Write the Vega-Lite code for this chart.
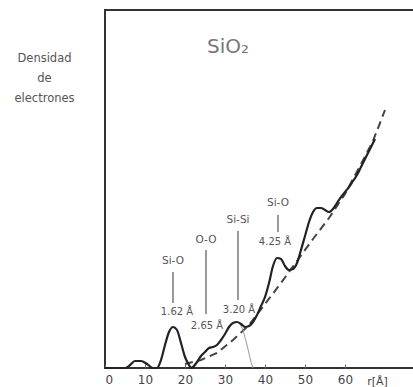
{
  "$schema": "https://vega.github.io/schema/vega-lite/v6.json",
  "autosize": "none",
  "width": 310,
  "height": 358,
  "padding": {"left": 105, "top": 10, "right": 0, "bottom": 19},
  "background": "white",
  "config": {
    "view": {"stroke": "#333333", "strokeWidth": 2},
    "font": "DejaVu Sans"
  },
  "datasets": {
    "curves": [
      {"r": 0, "py": 368, "s": "solid"}, {"r": 5, "py": 368, "s": "solid"}, {"r": 6, "py": 366, "s": "solid"},
      {"r": 7.5, "py": 361, "s": "solid"}, {"r": 9, "py": 361, "s": "solid"}, {"r": 10.5, "py": 364, "s": "solid"},
      {"r": 12, "py": 368, "s": "solid"}, {"r": 13, "py": 368, "s": "solid"}, {"r": 14, "py": 360, "s": "solid"},
      {"r": 15, "py": 345, "s": "solid"}, {"r": 16, "py": 332, "s": "solid"}, {"r": 17, "py": 327, "s": "solid"},
      {"r": 18, "py": 330, "s": "solid"}, {"r": 19, "py": 343, "s": "solid"}, {"r": 20, "py": 357, "s": "solid"},
      {"r": 21, "py": 365, "s": "solid"}, {"r": 21.5, "py": 368, "s": "solid"}, {"r": 22, "py": 367, "s": "solid"},
      {"r": 23, "py": 362, "s": "solid"}, {"r": 24, "py": 356, "s": "solid"}, {"r": 25, "py": 352, "s": "solid"},
      {"r": 26, "py": 348, "s": "solid"}, {"r": 27, "py": 347, "s": "solid"}, {"r": 28, "py": 345, "s": "solid"},
      {"r": 29, "py": 340, "s": "solid"}, {"r": 30, "py": 334, "s": "solid"}, {"r": 31, "py": 327, "s": "solid"},
      {"r": 32, "py": 323, "s": "solid"}, {"r": 33, "py": 322, "s": "solid"}, {"r": 34, "py": 324, "s": "solid"},
      {"r": 35, "py": 327, "s": "solid"}, {"r": 36, "py": 326, "s": "solid"}, {"r": 37, "py": 322, "s": "solid"},
      {"r": 38, "py": 315, "s": "solid"}, {"r": 39, "py": 306, "s": "solid"}, {"r": 40, "py": 297, "s": "solid"},
      {"r": 41, "py": 283, "s": "solid"}, {"r": 42, "py": 266, "s": "solid"}, {"r": 43, "py": 258, "s": "solid"},
      {"r": 44, "py": 259, "s": "solid"}, {"r": 45, "py": 266, "s": "solid"}, {"r": 46, "py": 270, "s": "solid"},
      {"r": 47, "py": 269, "s": "solid"}, {"r": 48, "py": 263, "s": "solid"}, {"r": 49, "py": 250, "s": "solid"},
      {"r": 50, "py": 236, "s": "solid"}, {"r": 51, "py": 222, "s": "solid"}, {"r": 52, "py": 212, "s": "solid"},
      {"r": 53, "py": 208, "s": "solid"}, {"r": 54, "py": 208, "s": "solid"}, {"r": 55, "py": 210, "s": "solid"},
      {"r": 56, "py": 212, "s": "solid"}, {"r": 57, "py": 209, "s": "solid"}, {"r": 58, "py": 203, "s": "solid"},
      {"r": 59, "py": 197, "s": "solid"}, {"r": 60, "py": 192, "s": "solid"}, {"r": 61, "py": 187, "s": "solid"},
      {"r": 62, "py": 181, "s": "solid"}, {"r": 63, "py": 175, "s": "solid"}, {"r": 64, "py": 167, "s": "solid"},
      {"r": 65, "py": 159, "s": "solid"}, {"r": 66, "py": 151, "s": "solid"}, {"r": 67, "py": 143, "s": "solid"},
      {"r": 67.5, "py": 139, "s": "solid"},
      {"r": 20, "py": 364, "s": "dashed"}, {"r": 24, "py": 360, "s": "dashed"}, {"r": 28, "py": 353, "s": "dashed"},
      {"r": 32, "py": 340, "s": "dashed"}, {"r": 36, "py": 325, "s": "dashed"}, {"r": 40, "py": 304, "s": "dashed"},
      {"r": 44, "py": 283, "s": "dashed"}, {"r": 48, "py": 261, "s": "dashed"}, {"r": 52, "py": 239, "s": "dashed"},
      {"r": 56, "py": 218, "s": "dashed"}, {"r": 60, "py": 194, "s": "dashed"}, {"r": 64, "py": 164, "s": "dashed"},
      {"r": 67, "py": 141, "s": "dashed"}, {"r": 70, "py": 110, "s": "dashed"},
      {"r": 33.5, "py": 322, "s": "gauss"}, {"r": 34.5, "py": 330, "s": "gauss"}, {"r": 35.5, "py": 345, "s": "gauss"},
      {"r": 36.5, "py": 362, "s": "gauss"}, {"r": 37, "py": 368, "s": "gauss"}
    ],
    "peaks": [
      {"r": 17, "name": "Si-O", "top": 261, "l1": 272, "l2": 303, "dist": "1.62 Å", "dpy": 312, "dr": 18},
      {"r": 25.25, "name": "O-O", "top": 240, "l1": 250, "l2": 314, "dist": "2.65 Å", "dpy": 326, "dr": 25.5},
      {"r": 33.25, "name": "Si-Si", "top": 220, "l1": 231, "l2": 300, "dist": "3.20 Å", "dpy": 310, "dr": 33.5},
      {"r": 43.25, "name": "Si-O", "top": 203, "l1": 215, "l2": 232, "dist": "4.25 Å", "dpy": 242, "dr": 42.5}
    ],
    "title": [{"r": 30.75, "py": 47, "t": "SiO₂"}]
  },
  "layer": [
    {
      "data": {"name": "curves"},
      "transform": [{"filter": "datum.s === 'dashed'"}, {"calculate": "(368 - datum.py) / 3.58", "as": "d"}],
      "mark": {"type": "line", "color": "#444444", "strokeWidth": 2, "strokeDash": [8, 5]},
      "encoding": {
        "x": {"field": "r", "type": "quantitative", "scale": {"domain": [0, 77.5], "nice": false},
          "axis": {"values": [0, 10, 20, 30, 40, 50, 60], "domain": false, "grid": false, "tickSize": -4,
            "tickColor": "#666666", "labelPadding": 10, "labelFontSize": 12, "labelColor": "#444444",
            "title": "r[Å]", "titleFontSize": 11, "titleFontWeight": "normal", "titleColor": "#444444",
            "titleX": 272, "titleY": 18, "titleAlign": "center", "titleBaseline": "bottom"}},
        "y": {"field": "d", "type": "quantitative", "scale": {"domain": [0, 100], "nice": false},
          "axis": {"domain": false, "ticks": false, "labels": false, "grid": false,
            "title": ["Densidad", "de", "electrones"], "titleAngle": 0, "titleAlign": "center",
            "titleBaseline": "middle", "titleX": -61, "titleY": 48, "titleFontSize": 11.5,
            "titleFontWeight": "normal", "titleColor": "#555555", "titleLineHeight": 20}}
      }
    },
    {
      "data": {"name": "curves"},
      "transform": [{"filter": "datum.s === 'gauss'"}, {"calculate": "(368 - datum.py) / 3.58", "as": "d"}],
      "mark": {"type": "line", "color": "#999999", "strokeWidth": 1},
      "encoding": {
        "x": {"field": "r", "type": "quantitative"},
        "y": {"field": "d", "type": "quantitative"}
      }
    },
    {
      "data": {"name": "curves"},
      "transform": [{"filter": "datum.s === 'solid'"}, {"calculate": "(368 - datum.py) / 3.58", "as": "d"}],
      "mark": {"type": "line", "color": "#222222", "strokeWidth": 2.2, "interpolate": "monotone"},
      "encoding": {
        "x": {"field": "r", "type": "quantitative"},
        "y": {"field": "d", "type": "quantitative"}
      }
    },
    {
      "data": {"name": "peaks"},
      "transform": [{"calculate": "(368 - datum.l1) / 3.58", "as": "y1"}, {"calculate": "(368 - datum.l2) / 3.58", "as": "y2"}],
      "mark": {"type": "rule", "color": "#555555", "strokeWidth": 1.2},
      "encoding": {
        "x": {"field": "r", "type": "quantitative"},
        "y": {"field": "y1", "type": "quantitative"},
        "y2": {"field": "y2"}
      }
    },
    {
      "data": {"name": "peaks"},
      "transform": [{"calculate": "(368 - datum.top) / 3.58", "as": "yt"}],
      "mark": {"type": "text", "fontSize": 10.5, "color": "#555555", "baseline": "middle", "align": "center"},
      "encoding": {
        "x": {"field": "r", "type": "quantitative"},
        "y": {"field": "yt", "type": "quantitative"},
        "text": {"field": "name"}
      }
    },
    {
      "data": {"name": "peaks"},
      "transform": [{"calculate": "(368 - datum.dpy) / 3.58", "as": "yd"}],
      "mark": {"type": "text", "fontSize": 10, "color": "#555555", "baseline": "middle", "align": "center"},
      "encoding": {
        "x": {"field": "dr", "type": "quantitative"},
        "y": {"field": "yd", "type": "quantitative"},
        "text": {"field": "dist"}
      }
    },
    {
      "data": {"name": "title"},
      "transform": [{"calculate": "(368 - datum.py) / 3.58", "as": "yt"}],
      "mark": {"type": "text", "fontSize": 20, "color": "#777777", "baseline": "middle", "align": "center"},
      "encoding": {
        "x": {"field": "r", "type": "quantitative"},
        "y": {"field": "yt", "type": "quantitative"},
        "text": {"field": "t"}
      }
    }
  ]
}
